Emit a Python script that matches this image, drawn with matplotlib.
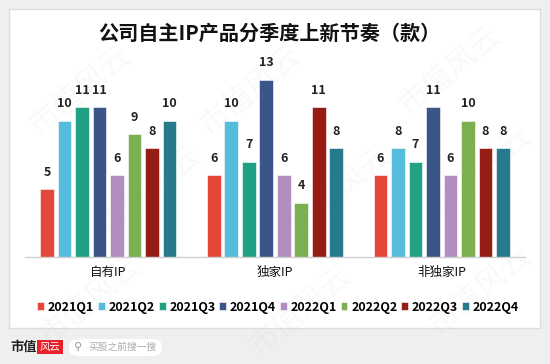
import matplotlib
matplotlib.use("Agg")
import matplotlib.pyplot as plt
from matplotlib.patches import FancyBboxPatch, Rectangle
import numpy as np

plt.rcParams['font.family'] = ['Noto Sans CJK SC', 'DejaVu Sans']

# data
categories = ['自有IP', '独家IP', '非独家IP']
quarters = ['2021Q1', '2021Q2', '2021Q3', '2021Q4', '2022Q1', '2022Q2', '2022Q3', '2022Q4']
q2021q1 = [5, 6, 6]
q2021q2 = [10, 10, 8]
q2021q3 = [11, 7, 7]
q2021q4 = [11, 13, 11]
q2022q1 = [6, 6, 6]
q2022q2 = [9, 4, 10]
q2022q3 = [8, 11, 8]
q2022q4 = [10, 8, 8]
series = [q2021q1, q2021q2, q2021q3, q2021q4, q2022q1, q2022q2, q2022q3, q2022q4]
colors = ['#E5473A', '#55BDDB', '#21A183', '#3A5587',
          '#B28DC0', '#7BAF4F', '#961C16', '#267A8C']

W, H = 550, 364
fig = plt.figure(figsize=(5.5, 3.64), dpi=100, facecolor='#EFEFEF')

# white card
card = FancyBboxPatch((9 / W, (364 - 328) / H), (540 - 9) / W, (328 - 9) / H,
                      boxstyle='square,pad=0', transform=fig.transFigure,
                      facecolor='white', edgecolor='#DDDDDD', linewidth=1.0, zorder=-2)
fig.patches.append(card)

# watermark
for (wx, wy) in [(90, 300), (300, 310), (480, 290), (150, 190), (340, 190), (480, 170),
                 (80, 90), (250, 90), (450, 70)]:
    fig.text(wx / W, 1 - wy / H, '市值风云', fontsize=22, color='#888888', alpha=0.05,
             rotation=40, ha='center', va='center', zorder=-1)

ax = fig.add_axes([25 / W, (364 - 257.3) / H, 500 / W, 197.3 / H])
ax.set_facecolor('none')

x = np.arange(len(categories))
pitch = 0.105
width = 0.082
for i, (vals, c) in enumerate(zip(series, colors)):
    pos = x + (i - 3.5) * pitch
    bars = ax.bar(pos, vals, width=width, color=c, edgecolor='white', linewidth=0.4,
                  label=quarters[i], zorder=2)
    for b, v in zip(bars, vals):
        ax.text(b.get_x() + b.get_width() / 2, v + 0.75, str(v), ha='center', va='bottom',
                fontsize=9, fontweight='bold', color='#222222')

ax.set_xlim(-0.5, 2.5)
ax.set_ylim(0, 197.3 / 13.66)
ax.set_yticks([])
ax.set_xticks(x)
ax.set_xticklabels(categories, fontsize=9, fontweight='medium', color='#111111')
ax.tick_params(axis='x', length=0, pad=6)
for s in ['top', 'left', 'right']:
    ax.spines[s].set_visible(False)
ax.spines['bottom'].set_color('#D0D0D0')
ax.spines['bottom'].set_linewidth(1.0)

fig.text(269 / W, 1 - 33 / H, '公司自主IP产品分季度上新节奏（款）', ha='center', va='center',
         fontsize=14.5, fontweight='bold', color='#111111')

fig.legend(loc='center', bbox_to_anchor=(278 / W, 1 - 307 / H), ncol=8, frameon=False,
           handlelength=0.55, handleheight=0.55, handletextpad=0.3, columnspacing=0.3,
           prop={'size': 9, 'weight': 'bold'})

# footer logo
fig.text(10 / W, 1 - 347 / H, '市值', fontsize=9.5, fontweight='bold', color='#222222',
         ha='left', va='center')
fig.patches.append(Rectangle((37 / W, 1 - 354 / H), 26 / W, 14 / H, transform=fig.transFigure,
                             facecolor='#E8202A', edgecolor='none'))
fig.text(50 / W, 1 - 347 / H, '风云', fontsize=7.5, fontstyle='italic', color='white',
         ha='center', va='center')
fig.patches.append(FancyBboxPatch((69 / W, 1 - 356 / H), 93 / W, 17 / H,
                                  boxstyle='round,pad=0,rounding_size=0.02',
                                  transform=fig.transFigure, facecolor='white', edgecolor='none'))
fig.text(78 / W, 1 - 347 / H, '⚲', fontsize=8, color='#999999', ha='center', va='center',
         family=['DejaVu Sans'])
fig.text(88 / W, 1 - 347 / H, '买股之前搜一搜', fontsize=7, color='#AAAAAA', ha='left', va='center')

fig.savefig('out.png', dpi=100, facecolor=fig.get_facecolor())
